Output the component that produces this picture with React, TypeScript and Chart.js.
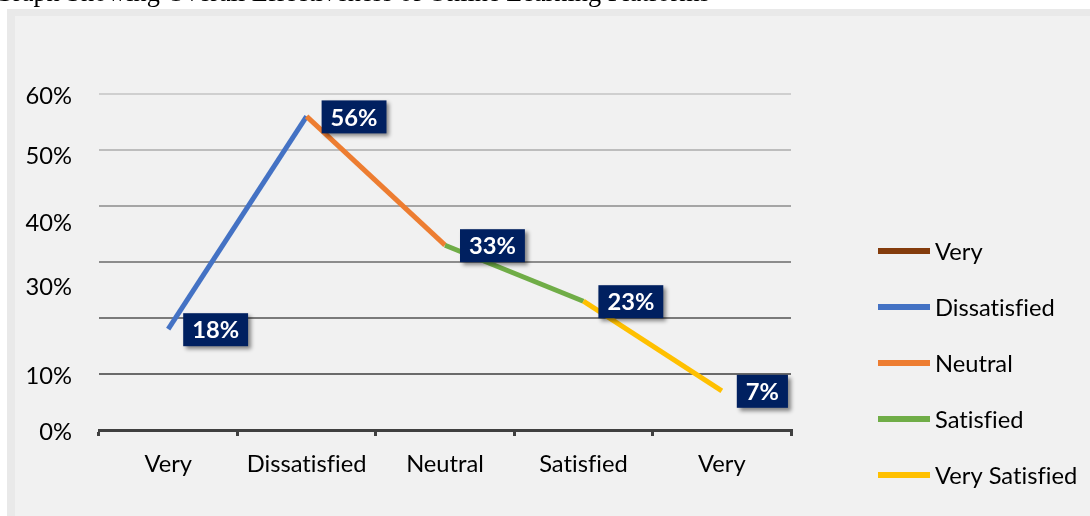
import React, { useEffect, useRef } from 'react';
import { Chart, registerables } from 'chart.js';

Chart.register(...registerables);

// ---------- data ----------
const categories = ['Very', 'Dissatisfied', 'Neutral', 'Satisfied', 'Very'];
const satisfaction = [18, 56, 33, 23, 7];
const yTickLabels = ['0%', '10%', '', '30%', '40%', '50%', '60%'];
const legendLabels = ['Very', 'Dissatisfied', 'Neutral', 'Satisfied', 'Very Satisfied'];
const legendColors = ['#843C0C', '#4472C4', '#ED7D31', '#70AD47', '#FFC000'];
const segmentColors = ['#4472C4', '#ED7D31', '#70AD47', '#FFC000'];
const titleText = 'Graph Showing Overall Effectiveness of Online Learning Platforms';

// ---------- style ----------
const yLabelShift = [2, 2, 0, 25, 17, 6, 2];
const gridShades = ['#5a5a5a', '#6a6a6a', '#7a7a7a', '#8c8c8c', '#a5a5a5', '#bdbdbd', '#cfcfcf'];
const LABEL_BG = '#002060';

function pickFont() {
  const ctx = document.createElement('canvas').getContext('2d')!;
  const test = 'Very Satisfied';
  ctx.font = '100px monospace';
  const mono = ctx.measureText(test).width;
  const candidates = ['Lato', 'Roboto', 'Liberation Sans Narrow', 'DejaVu Sans Condensed'];
  for (const f of candidates) {
    ctx.font = `100px "${f}", monospace`;
    const w = ctx.measureText(test).width;
    if (Math.abs(w - mono) > 0.5) {
      return { family: `"${f}", sans-serif`, size: Math.round((142 / w) * 1000) / 10 };
    }
  }
  return { family: 'sans-serif', size: 24 };
}

export default function App() {
  const ref = useRef<HTMLCanvasElement>(null);

  useEffect(() => {
    const f = pickFont();
    const family = f.family;
    const size = f.size;

    const noLigatures = {
      id: 'noLigatures',
      beforeDraw(chart: any) {
        try {
          (chart.ctx as any).textRendering = 'optimizeSpeed';
        } catch (e) {
          /* ignore */
        }
      },
    };

    const labelPlugin = {
      id: 'valueBoxes',
      afterDatasetsDraw(chart: any) {
        const ctx = chart.ctx;
        const meta = chart.getDatasetMeta(0);
        ctx.save();
        ctx.font = `bold ${size}px ${family}`;
        ctx.textAlign = 'left';
        ctx.textBaseline = 'middle';
        meta.data.forEach((pt: any, i: number) => {
          const text = `${satisfaction[i]}%`;
          const w = ctx.measureText(text).width + 18;
          const h = 33;
          const bx = pt.x + 15;
          const by = pt.y - 16;
          ctx.shadowColor = 'rgba(0,0,0,0.45)';
          ctx.shadowBlur = 4;
          ctx.shadowOffsetX = 3;
          ctx.shadowOffsetY = 3;
          ctx.fillStyle = LABEL_BG;
          ctx.fillRect(bx, by, w, h);
          ctx.shadowColor = 'transparent';
          ctx.fillStyle = '#ffffff';
          ctx.fillText(text, bx + 9, by + h / 2 + 1);
        });
        ctx.restore();
      },
    };

    const legendPlugin = {
      id: 'sideLegend',
      afterDraw(chart: any) {
        const ctx = chart.ctx;
        const area = chart.chartArea;
        const x0 = area.right + 87;
        const y0 = area.top + 157;
        ctx.save();
        ctx.font = `${size}px ${family}`;
        ctx.textAlign = 'left';
        ctx.textBaseline = 'middle';
        legendLabels.forEach((lab, i) => {
          const yc = y0 + i * 56;
          ctx.fillStyle = legendColors[i];
          ctx.fillRect(x0, yc - 3, 52, 6);
          ctx.fillStyle = '#000000';
          ctx.fillText(lab, x0 + 57, yc + 1);
        });
        ctx.restore();
      },
    };

    const chart = new Chart(ref.current!, {
      type: 'line',
      data: {
        labels: categories,
        datasets: [
          {
            label: 'Overall Effectiveness',
            data: satisfaction,
            borderWidth: 5,
            borderColor: segmentColors[0],
            pointRadius: 0,
            tension: 0,
            borderCapStyle: 'butt',
            segment: {
              borderColor: (c: any) => segmentColors[c.p0DataIndex],
            },
          },
        ],
      },
      options: {
        animation: false,
        responsive: false,
        devicePixelRatio: 1,
        layout: { padding: { top: 78, right: 299, left: 0, bottom: 0 } },
        plugins: {
          legend: { display: false },
          tooltip: { enabled: false },
          title: { display: false },
        },
        scales: {
          x: {
            type: 'category',
            offset: true,
            grid: {
              display: true,
              offset: true,
              drawOnChartArea: false,
              drawTicks: true,
              tickLength: 6,
              tickWidth: 3,
              tickColor: '#404040',
              lineWidth: 3,
              color: '#404040',
            },
            border: { display: true, color: '#404040', width: 3 },
            ticks: {
              color: '#000000',
              padding: 14,
              maxRotation: 0,
              autoSkip: false,
              font: { family, size },
            },
            afterFit(scale: any) {
              scale.height = 86;
            },
          },
          y: {
            min: 0,
            max: 60,
            grid: {
              color: (c: any) => gridShades[c.index] ?? '#888888',
              lineWidth: 2,
              drawTicks: false,
            },
            border: { display: false },
            ticks: {
              stepSize: 10,
              autoSkip: false,
              color: '#000000',
              padding: 27,
              font: (c: any) => ({
                family,
                size,
                lineHeight: `${Math.max(2 * (yLabelShift[c.index] ?? 0), 1)}px`,
              }),
              callback: (_v: any, i: number) => ['', yTickLabels[i] ?? ''],
            },
            afterFit(scale: any) {
              scale.width = 84;
            },
          },
        },
      },
      plugins: [noLigatures, labelPlugin, legendPlugin],
    } as any);

    return () => chart.destroy();
  }, []);

  return (
    <>
      <div
        style={{
          position: 'fixed',
          left: -6,
          top: -20,
          font: '26.3px "Liberation Serif", "Times New Roman", serif',
          lineHeight: '26.3px',
          whiteSpace: 'nowrap',
          color: '#000',
        }}
      >
        {titleText}
      </div>
      <div
        style={{
          position: 'fixed',
          left: 7,
          top: 9,
          width: 1100,
          height: 520,
          background: '#f1f1f1',
          borderLeft: '8px solid #e9e9e9',
          borderTop: '7px solid #e9e9e9',
          boxSizing: 'border-box',
        }}
      >
        <canvas ref={ref} width={1075} height={500} style={{ display: 'block', width: 1075, height: 500 }} />
      </div>
    </>
  );
}
